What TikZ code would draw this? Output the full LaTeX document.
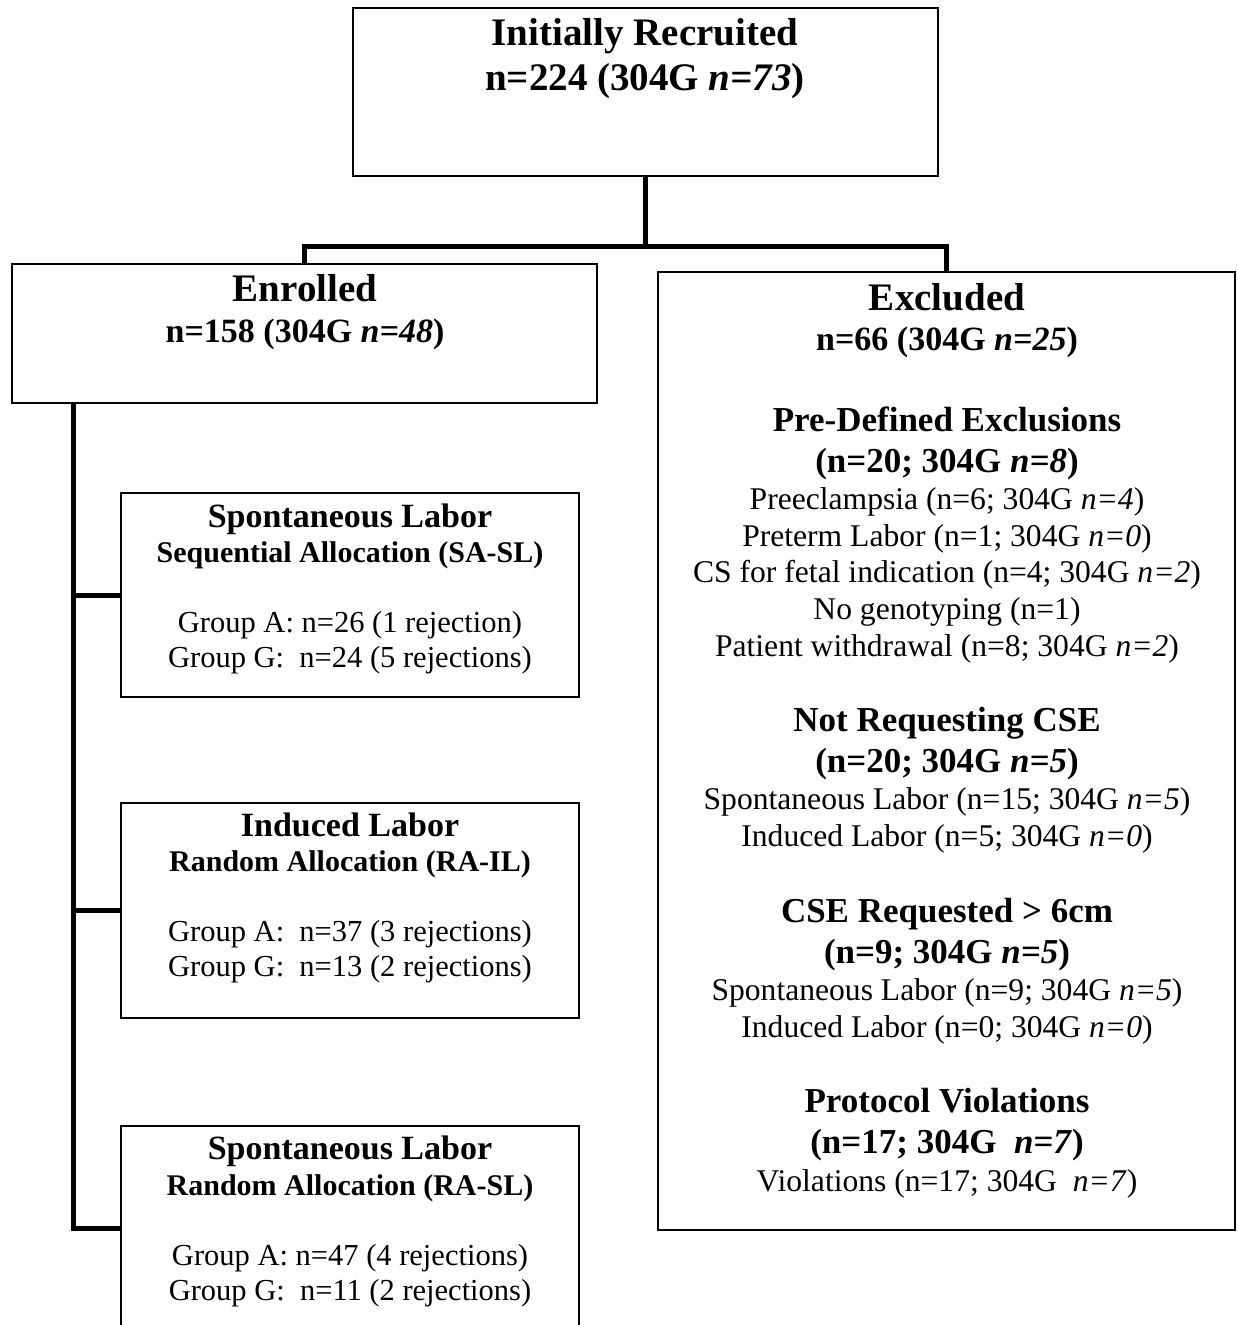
\documentclass[tikz,border=0pt]{standalone}
\usepackage{fontspec}
\setmainfont{Liberation Serif}

\begin{document}
\begin{tikzpicture}[x=0.5pt, y=-0.5pt,
    box/.style={draw, line width=1pt, anchor=north west, inner sep=0pt, outer sep=0pt},
    link/.style={line width=2.5pt},
    txt/.style={anchor=base, inner sep=0pt, align=center},
    ttl/.style={txt, font=\fontsize{19.5}{22.5}\selectfont\bfseries},
    cnt/.style={txt, font=\fontsize{17}{20}\selectfont\bfseries},
    hd/.style={txt, font=\fontsize{17.5}{20.5}\selectfont\bfseries},
    itm/.style={txt, font=\fontsize{15.8}{18.3}\selectfont},
    sub/.style={txt, font=\fontsize{15}{18}\selectfont\bfseries},
    grp/.style={txt, font=\fontsize{15.25}{17.5}\selectfont}]
    \useasboundingbox (0, 0) rectangle (1237, 1325);
    \clip (0, 0) rectangle (1237, 1325);
    % boxes
    \node[box, minimum width=292.5pt, minimum height=84pt] (top) at (353, 8) {};
    \node[box, minimum width=292.5pt, minimum height=69.5pt] (enr) at (12, 264) {};
    \node[box, minimum width=288.5pt, minimum height=479pt] (exc) at (658, 272) {};
    \node[box, minimum width=229pt, minimum height=102pt] (sasl) at (121, 493) {};
    \node[box, minimum width=229pt, minimum height=107.5pt] (rail) at (121, 803) {};
    \node[box, minimum width=229pt, minimum height=102pt] (rasl) at (121, 1126) {};
    % top and enrolled (base = last line)
    \node[ttl] (toptxt) at (645, 91) {Initially Recruited\\n=224 (304G \textit{n=73})};
    \node[ttl] (enrttl) at (305, 302) {Enrolled};
    \node[cnt] (enrcnt) at (305, 343) {n=158 (304G \textit{n=48})};
    % excluded
    \node[ttl] (excttl) at (947, 311) {Excluded};
    \node[cnt] (exccnt) at (947, 351) {n=66 (304G \textit{n=25})};
    \node[hd] (pdehd) at (947, 472.5) {Pre-Defined Exclusions\\(n=20; 304G \textit{n=8})};
    \node[itm] (pdeitm) at (947, 656) {Preeclampsia (n=6; 304G \textit{n=4})\\
        Preterm Labor (n=1; 304G \textit{n=0})\\
        CS for fetal indication (n=4; 304G \textit{n=2})\\
        No genotyping (n=1)\\
        Patient withdrawal (n=8; 304G \textit{n=2})};
    \node[hd] (nrchd) at (947, 772.5) {Not Requesting CSE\\(n=20; 304G \textit{n=5})};
    \node[itm] (nrcitm) at (947, 846) {Spontaneous Labor (n=15; 304G \textit{n=5})\\
        Induced Labor (n=5; 304G \textit{n=0})};
    \node[hd] (csehd) at (947, 963.5) {CSE Requested > 6cm\\(n=9; 304G \textit{n=5})};
    \node[itm] (cseitm) at (947, 1037) {Spontaneous Labor (n=9; 304G \textit{n=5})\\
        Induced Labor (n=0; 304G \textit{n=0})};
    \node[hd] (pvhd) at (947, 1153.5) {Protocol Violations\\(n=17; 304G~~\textit{n=7})};
    \node[itm] (pvitm) at (947, 1191) {Violations (n=17; 304G~~\textit{n=7})};
    % groups
    \node[cnt] (saslttl) at (350, 527) {Spontaneous Labor};
    \node[sub] (saslsub) at (350, 562) {Sequential Allocation (SA-SL)};
    \node[grp] (saslgrp) at (350, 667) {Group A: n=26 (1 rejection)\\Group G:~~n=24 (5 rejections)};
    \node[cnt] (railttl) at (350, 836) {Induced Labor};
    \node[sub] (railsub) at (350, 871) {Random Allocation (RA-IL)};
    \node[grp] (railgrp) at (350, 976) {Group A:~~n=37 (3 rejections)\\Group G:~~n=13 (2 rejections)};
    \node[cnt] (raslttl) at (350, 1159) {Spontaneous Labor};
    \node[sub] (raslsub) at (350, 1195) {Random Allocation (RA-SL)};
    \node[grp] (raslgrp) at (350, 1300) {Group A: n=47 (4 rejections)\\Group G:~~n=11 (2 rejections)};
    % connectors
    \coordinate (fork) at (645.5, 247);
    \coordinate (spine) at (73, 403);
    \draw[link] (top.south) -- (fork) -| (enr.north);
    \draw[link] (fork) -| (exc.north);
    \draw[link] (spine) |- (rasl.west);
    \draw[link] (spine |- sasl.west) -- (sasl.west);
    \draw[link] (spine |- rail.west) -- (rail.west);
\end{tikzpicture}
\end{document}
